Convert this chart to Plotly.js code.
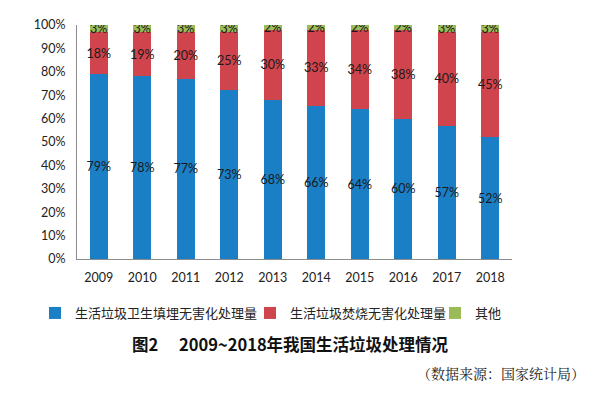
<!DOCTYPE html>
<html><head><meta charset="utf-8">
<script src="https://cdn.plot.ly/plotly-3.0.1.min.js"></script>
<style>html,body{margin:0;padding:0;background:#fff}#c{width:606px;height:398px}</style>
</head><body><div id="c"></div>
<script>
const years = ['2009','2010','2011','2012','2013','2014','2015','2016','2017','2018'];
const landfill = [79,78,77,73,68,66,64,60,57,52];
const incineration = [18,19,20,25,30,33,34,38,40,45];
const other = [3,3,3,3,2,2,2,2,3,3];
const seriesNames = ['生活垃圾卫生填埋无害化处理量','生活垃圾焚烧无害化处理量','其他'];
const colors = ['#1B7FC6','#D0454D','#9BBB59'];
const yTicks = [0,10,20,30,40,50,60,70,80,90,100];

const numFont = 'Lato, "Liberation Sans", sans-serif';
const cjkFont = '"Noto Sans CJK SC", sans-serif';
const legendIds = ['legend','legend2','legend3'];
const data = [landfill, incineration, other].map((vals, i) => ({
  type: 'bar', x: years, y: vals, name: seriesNames[i], legend: legendIds[i],
  marker: {color: colors[i]},
  text: vals.map(v => v + '%'),
  textposition: 'inside', insidetextanchor: 'middle',
  textangle: 0, constraintext: 'none',
  textfont: {family: numFont, size: 12.5, color: '#1a1a1a'},
  hoverinfo: 'skip'
}));

const legendY = (398-313)/398;
function leg(leftPx) {
  return {orientation: 'h', xref: 'container', yref: 'container', x: leftPx/606, xanchor: 'left',
          y: legendY, yanchor: 'middle', font: {family: cjkFont, size: 13, color: '#222'},
          itemwidth: 30, borderwidth: 0, bgcolor: 'rgba(0,0,0,0)'};
}

const layout = {
  width: 606, height: 398,
  margin: {l: 77, r: 94, t: 25, b: 139},
  barmode: 'stack', barnorm: 'percent', bargap: 0.58,
  uniformtext: {minsize: 12.5, mode: 'show'},
  paper_bgcolor: '#fff', plot_bgcolor: '#fff',
  showlegend: true,
  legend: leg(35), legend2: leg(250), legend3: leg(435),
  xaxis: {type: 'category', showline: true, linecolor: '#8c8c8c', linewidth: 1, ticks: '',
          ticklabelstandoff: 7,
          tickfont: {family: numFont, size: 12.5, color: '#222'}, fixedrange: true},
  yaxis: {range: [0, 100], tickvals: yTicks, ticktext: yTicks.map(v => v + '%'),
          showline: true, linecolor: '#8c8c8c', linewidth: 1, showgrid: false, zeroline: false,
          ticks: '', ticklen: 0, ticklabelstandoff: 8,
          tickfont: {family: numFont, size: 12.5, color: '#222'}, fixedrange: true},
  annotations: [
    {xref: 'paper', yref: 'paper', x: (130-77)/435, y: -(344-259)/234, xanchor: 'left', yanchor: 'middle',
     text: '<b>图2</b>', showarrow: false,
     font: {family: cjkFont, size: 16.5, color: '#111'}},
    {xref: 'paper', yref: 'paper', x: (177-77)/435, y: -(344-259)/234, xanchor: 'left', yanchor: 'middle',
     text: '<b>2009~2018年我国生活垃圾处理情况</b>', showarrow: false,
     font: {family: cjkFont, size: 16.5, color: '#111'}},
    {xref: 'paper', yref: 'paper', x: (587-77)/435, y: -(373-259)/234, xanchor: 'right', yanchor: 'middle',
     text: '（数据来源：国家统计局）', showarrow: false,
     font: {family: '"Noto Serif CJK SC", "Noto Sans CJK SC", serif', size: 14, color: '#222'}}
  ]
};
Plotly.newPlot('c', data, layout, {staticPlot: true, displayModeBar: false});
</script></body></html>
